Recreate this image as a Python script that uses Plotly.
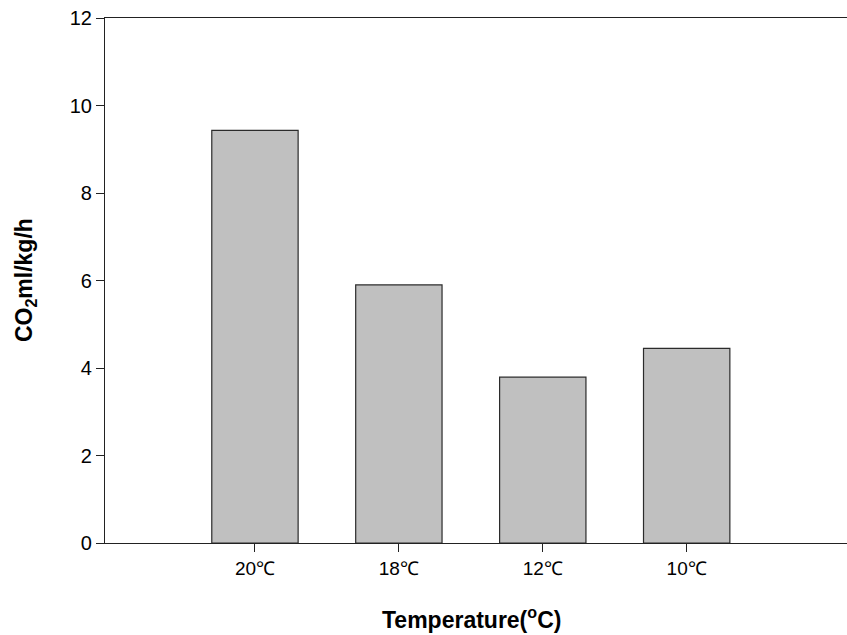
import plotly.graph_objects as go

# Respiration rate by storage temperature
categories = ["20℃", "18℃", "12℃", "10℃"]
co2_rate = [9.43, 5.90, 3.79, 4.45]
y_ticks = [0, 2, 4, 6, 8, 10, 12]

FONT = "Liberation Sans, Arial"

fig = go.Figure(
    go.Bar(
        x=categories,
        y=co2_rate,
        width=0.6,
        marker=dict(color="#c0c0c0", line=dict(color="#2b2b2b", width=1.2)),
    )
)

fig.update_layout(
    width=847,
    height=635,
    margin=dict(l=105, r=0, t=18, b=92),
    plot_bgcolor="white",
    paper_bgcolor="white",
    showlegend=False,
    font=dict(family=FONT, color="black"),
)

fig.update_xaxes(
    type="category",
    range=[-1.042, 4.114],
    showline=True,
    linecolor="#222",
    linewidth=1.2,
    mirror=True,
    ticks="outside",
    ticklen=8,
    tickcolor="#222",
    tickfont=dict(size=19, family=FONT),
    showgrid=False,
    zeroline=False,
)

fig.update_yaxes(
    range=[0, 12],
    tickvals=y_ticks,
    showline=True,
    linecolor="#222",
    linewidth=1.2,
    ticks="outside",
    ticklen=8,
    tickcolor="#222",
    tickfont=dict(size=20, family=FONT),
    showgrid=False,
    zeroline=False,
)

fig.add_annotation(
    text="<b>Temperature(<sup>o</sup>C)</b>",
    xref="paper", yref="paper",
    x=0.494, y=-0.143,
    xanchor="center", yanchor="middle",
    showarrow=False,
    font=dict(size=23, family=FONT),
)

fig.add_annotation(
    text="<b>CO<sub>2</sub>ml/kg/h</b>",
    xref="paper", yref="paper",
    x=-0.107, y=0.5,
    xanchor="center", yanchor="middle",
    textangle=-90,
    showarrow=False,
    font=dict(size=23, family=FONT),
)

fig.write_html("out.html")
